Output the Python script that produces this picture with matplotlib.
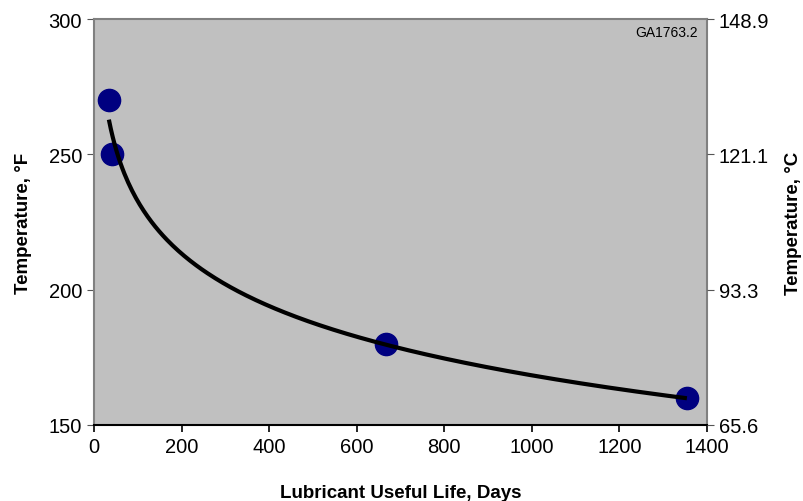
import matplotlib
matplotlib.use('Agg')
import matplotlib.pyplot as plt
import numpy as np

plt.rcParams['font.family'] = ['Liberation Sans', 'DejaVu Sans']

life_days = [34, 41, 667, 1354]
temp_f = [270, 250, 180, 160]
f_ticks = [150, 200, 250, 300]
x_ticks = [0, 200, 400, 600, 800, 1000, 1200, 1400]

# log trendline through the points
b, a = np.polyfit(np.log(life_days), temp_f, 1)
xs = np.linspace(min(life_days), max(life_days), 300)
ys = a + b * np.log(xs)

fig = plt.figure(figsize=(8.04, 5.02), dpi=100)
ax = fig.add_axes([0.1169, 0.1514, 0.7625, 0.8086])
ax.set_facecolor("#c0c0c0")
ax.plot(life_days, temp_f, "o", color="#000080", ms=16, zorder=3)
ax.plot(xs, ys, color="black", lw=3, zorder=4, solid_capstyle="butt")
ax.set_xlim(0, 1400)
ax.set_ylim(150, 300)
ax.set_xticks(x_ticks)
ax.set_yticks(f_ticks)
ax.tick_params(labelsize=14.5, length=5, color="#555555")
for s in ("left", "right", "top"):
    ax.spines[s].set_color("#808080")
    ax.spines[s].set_linewidth(1.5)
ax.spines["bottom"].set_color("black")
ax.spines["bottom"].set_linewidth(1.5)
ax.tick_params(axis="x", color="black", width=1.2)
ax.set_xlabel("Lubricant Useful Life, Days", fontsize=13.5, fontweight="bold", labelpad=20)
ax.set_ylabel("Temperature, °F", fontsize=13.5, fontweight="bold", labelpad=12)
ax.text(0.985, 0.985, "GA1763.2", transform=ax.transAxes, ha="right", va="top", fontsize=10)

ax2 = ax.twinx()
ax2.set_ylim(150, 300)
ax2.set_yticks(f_ticks)
ax2.set_yticklabels([f"{(f - 32) * 5 / 9:.1f}" for f in f_ticks])
ax2.tick_params(labelsize=14.5, length=5, color="#555555")
for s in ax2.spines.values():
    s.set_visible(False)
ax2.set_ylabel("Temperature, °C", fontsize=13.5, fontweight="bold", labelpad=11)

fig.savefig("out.png", dpi=100)
